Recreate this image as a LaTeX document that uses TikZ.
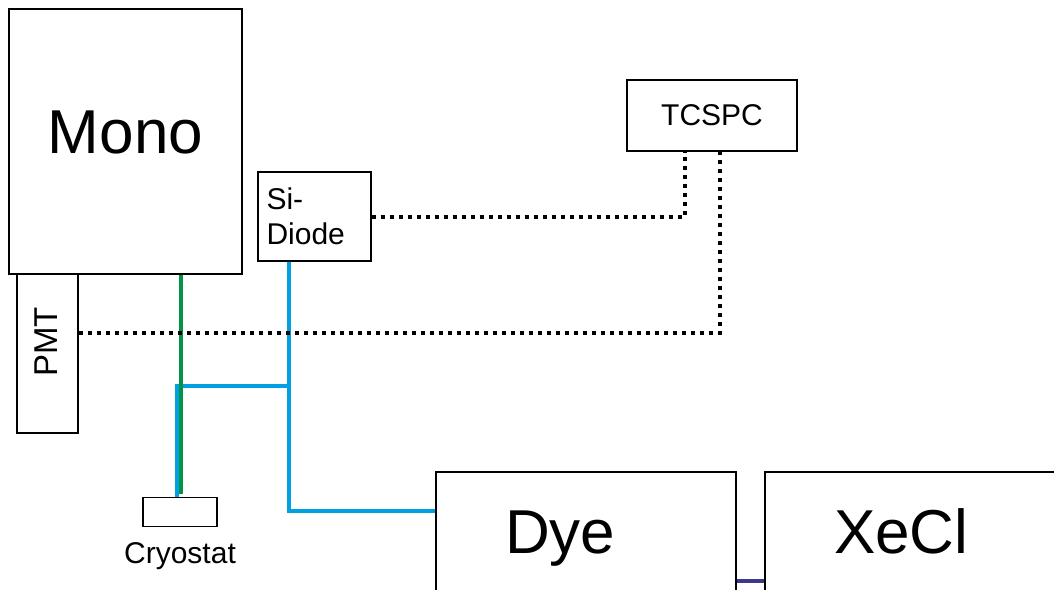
\documentclass[tikz,border=0pt]{standalone}
\usepackage{fontspec}
\setmainfont{Liberation Sans}
\usetikzlibrary{positioning}
\definecolor{fibreblue}{RGB}{0,160,226}
\definecolor{fibregreen}{RGB}{0,148,70}
\definecolor{laserpurple}{RGB}{60,56,140}

\begin{document}
\begin{tikzpicture}[
  x=1pt, y=-1pt,
  instbox/.style={rectangle, draw=black, line width=1.2pt, inner sep=0pt, align=center},
  bigbox/.style={instbox, font=\fontsize{62}{72}\selectfont,
                 text height=45pt, text depth=19pt},
  smallbox/.style={instbox, font=\fontsize{30}{35}\selectfont},
  fibre/.style={line width=4pt, draw=#1},
  sigline/.style={line width=4pt, dash pattern=on 4pt off 5pt},
]

\useasboundingbox (0,0) rectangle (1054,589);
\clip (0,0) rectangle (1054,589);

% === Instruments ===
\node[bigbox, minimum width=233pt, minimum height=265pt, text depth=22pt] (mono) at (125.5,141.5) {Mono};

\node[instbox, minimum width=61pt, minimum height=159pt] (pmt) at (47.5,353.5) {};
\node[font=\fontsize{33}{40}\selectfont, rotate=90, inner sep=0pt] (pmt label) at (46,342) {PMT};

\node[smallbox, minimum width=113pt, minimum height=89pt,
      text width=96pt, inner xsep=8.5pt, align=left] (sidiode) at (314.5,216.5) {Si-\\Diode};

\node[smallbox, minimum width=170pt, minimum height=71pt] (tcspc) at (712,115.5) {TCSPC};

\node[instbox, minimum width=74pt, minimum height=29pt] (cryostat) at (180,512) {};
\node[font=\fontsize{30}{35}\selectfont, inner sep=0pt, below=15pt of cryostat] (cryostat label) {Cryostat};

% === Lasers (cut off at the bottom) ===
\node[bigbox, minimum width=300pt, minimum height=136pt,
      text width=162pt, inner xsep=69pt, align=left] (dye) at (586,540) {Dye};
\node[bigbox, minimum width=300pt, minimum height=136pt,
      text width=162pt, inner xsep=69pt, align=left] (xecl) at (915,540) {XeCl};

% === Fibres ===
\coordinate (split) at (290,386);
\draw[fibre=fibreblue] ([xshift=32pt]sidiode.south west) |- ([yshift=-40pt]dye.north west);
\draw[fibre=fibreblue] (split) -| ([xshift=-3.5pt]cryostat.north);
\coordinate (green in) at ([xshift=1pt]cryostat.north);
\draw[fibre=fibregreen] (green in |- mono.south) -- ([yshift=3pt]green in);

\draw[fibre=laserpurple] ([yshift=-110pt]dye.north east) -- ([yshift=-110pt]xecl.north west);

% === Signal cables ===
\draw[sigline] (sidiode.east) -| ([xshift=-27pt]tcspc.south);
\draw[sigline] ([yshift=20.5pt]pmt.east) -| ([xshift=8pt]tcspc.south);

\end{tikzpicture}
\end{document}
